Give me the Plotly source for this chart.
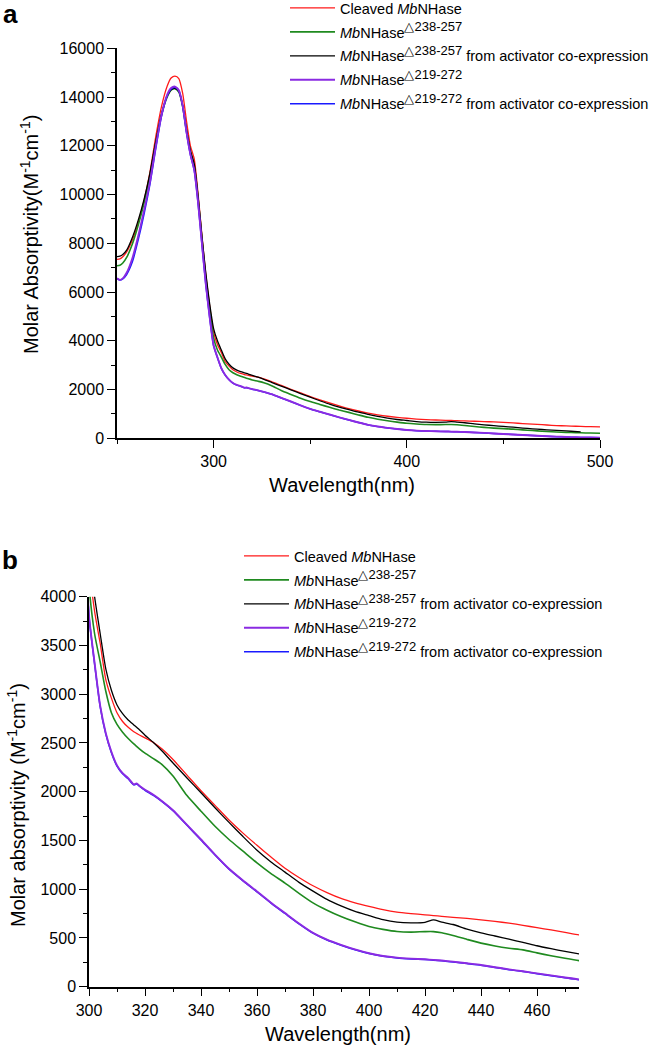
import plotly.graph_objects as go

# ---------------- data ----------------
wavelength = [250, 251.5, 253, 255, 258, 261, 264, 267, 270, 273,
              276, 278, 280, 282, 284, 286, 288, 290, 292, 294,
              296, 298, 300, 302, 304, 306, 308, 310, 312, 314,
              316, 317, 318, 320, 323, 326, 330, 335, 340, 345,
              350, 355, 360, 365, 370, 375, 380, 385, 390, 395,
              400, 405, 410, 415, 420, 423, 426, 430, 435, 440,
              445, 450, 455, 460, 465, 470, 475, 480, 485, 490,
              495, 500]

cleaved = [7344, 7360, 7450, 7650, 8150, 8850, 9750, 10900, 12350, 13600,
           14450, 14780, 14860, 14760, 14150, 13000, 12000, 11450, 10000, 8300,
           6700, 5400, 4350, 3850, 3520, 3150, 2960, 2810, 2720, 2660,
           2615, 2598, 2582, 2552, 2505, 2440, 2330, 2170, 2010, 1860,
           1710, 1575, 1450, 1330, 1215, 1120, 1035, 965, 905, 860,
           823, 790, 765, 750, 737, 730, 722, 712, 700, 686,
           670, 652, 630, 605, 583, 558, 532, 515, 500, 487,
           475, 465]

d238 = [7082, 7100, 7190, 7420, 7980, 8750, 9650, 10750, 12100, 13250,
        14000, 14280, 14340, 14200, 13600, 12600, 11750, 11150, 9800, 8150,
        6550, 5250, 4120, 3620, 3330, 3030, 2810, 2690, 2610, 2545,
        2490, 2465, 2440, 2395, 2340, 2280, 2160, 1960, 1800, 1645,
        1510, 1390, 1270, 1160, 1063, 958, 860, 785, 720, 665,
        617, 588, 566, 560, 565, 565, 553, 525, 485, 447,
        418, 395, 378, 347, 317, 291, 267, 250, 237, 225,
        215, 205]

d238_act = [7451, 7470, 7540, 7720, 8250, 8950, 9800, 10850, 12150, 13300,
            14050, 14300, 14360, 14230, 13650, 12650, 11800, 11250, 9900, 8250,
            6750, 5500, 4500, 4000, 3620, 3260, 3040, 2890, 2800, 2735,
            2685, 2660, 2635, 2580, 2505, 2420, 2295, 2140, 1990, 1835,
            1685, 1540, 1400, 1280, 1175, 1070, 980, 895, 828, 772,
            730, 688, 662, 655, 660, 685, 662, 638, 590, 552,
            520, 487, 455, 420, 390, 362, 336, 312, 290, 266,
            None, None]

d219 = [6565, 6500, 6560, 6790, 7400, 8300, 9350, 10500, 11950, 13250,
        14100, 14370, 14430, 14280, 13650, 12550, 11650, 11000, 9650, 7950,
        6300, 4950, 3810, 3320, 2880, 2600, 2410, 2270, 2190, 2140,
        2075, 2085, 2062, 2020, 1968, 1905, 1810, 1660, 1510, 1355,
        1210, 1090, 977, 862, 755, 648, 552, 482, 429, 382,
        343, 315, 298, 288, 281, 275, 268, 257, 240, 223,
        200, 178, 158, 137, 116, 95, 75, 62, 50, 40,
        32, 25]

d219_act = [6555, 6495, 6540, 6720, 7250, 8150, 9200, 10400, 11850, 13200,
            14050, 14330, 14400, 14260, 13630, 12530, 11630, 10980, 9620, 7920,
            6280, 4930, 3800, 3310, 2870, 2590, 2400, 2262, 2183, 2132,
            2070, 2078, 2056, 2014, 1962, 1900, 1804, 1655, 1505, 1350,
            1205, 1086, 972, 858, 751, 645, 549, 479, 426, 379,
            340, 312, 295, 285, 278, 272, 265, 254, 237, 220,
            197, 175, 155, 134, 113, 92, 72, 59, 47, 37,
            29, 22]

SUP_A = "<sup><span style=\"font-size:13px\">△238-257</span></sup>"
SUP_B = "<sup><span style=\"font-size:13px\">△219-272</span></sup>"
series_names = [
    "Cleaved <i>Mb</i>NHase",
    "<i>Mb</i>NHase" + SUP_A,
    "<i>Mb</i>NHase" + SUP_A + " from activator co-expression",
    "<i>Mb</i>NHase" + SUP_B,
    "<i>Mb</i>NHase" + SUP_B + " from activator co-expression",
]
series_values = [cleaved, d238, d238_act, d219, d219_act]
series_colors = ["#ff1a1a", "#1f8a1f", "#000000", "#8a2be2", "#1a1aff"]
series_widths = [1.3, 1.6, 1.3, 1.9, 1.5]
draw_order = [0, 1, 2, 4, 3]  # blue drawn beneath purple

FONT = "Arial, Liberation Sans, sans-serif"

fig = go.Figure()

for panel, (xa, ya, leg) in enumerate([("x", "y", "legend"), ("x2", "y2", "legend2")]):
    for i in draw_order:
        fig.add_trace(go.Scatter(
            x=wavelength, y=series_values[i], mode="lines",
            name=series_names[i],
            line=dict(color=series_colors[i], width=series_widths[i],
                      shape="spline", smoothing=0.6),
            xaxis=xa, yaxis=ya, legend=leg,
            legendgroup=f"g{panel}{i}", legendrank=i + 1,
            showlegend=True,
        ))

W, H = 660, 1050


def px_x(p):
    return p / W


def px_y(p):
    return 1 - p / H


axis_common = dict(
    showgrid=False, zeroline=False, showline=True, linecolor="black",
    linewidth=1.5, ticks="outside", ticklen=8, tickwidth=1.3,
    tickcolor="black", tickfont=dict(family=FONT, size=16, color="black"),
    automargin=False, tickformat="d",
)

legend_common = dict(
    xanchor="left", yanchor="top", bgcolor="rgba(0,0,0,0)",
    font=dict(family=FONT, size=14.5, color="black"),
    tracegroupgap=2.1, itemwidth=45, traceorder="grouped",
    itemclick=False, itemdoubleclick=False,
)

fig.update_layout(
    width=W, height=H, autosize=False,
    margin=dict(l=0, r=0, t=0, b=0, autoexpand=False),
    paper_bgcolor="white", plot_bgcolor="white",
    xaxis=dict(domain=[px_x(117), px_x(600)], range=[250, 500], dtick=100,
               anchor="y",
               minor=dict(dtick=50, ticks="outside", ticklen=4,
                          tickcolor="black", tickwidth=1.3),
               **axis_common),
    yaxis=dict(domain=[px_y(438.3), px_y(48.3)], range=[0, 16000], dtick=2000,
               anchor="x",
               minor=dict(dtick=1000, ticks="outside", ticklen=4,
                          tickcolor="black", tickwidth=1.3),
               **axis_common),
    xaxis2=dict(domain=[px_x(89), px_x(579)], range=[300, 475], dtick=20,
                anchor="y2",
                minor=dict(dtick=10, ticks="outside", ticklen=4,
                           tickcolor="black", tickwidth=1.3),
                **axis_common),
    yaxis2=dict(domain=[px_y(986.7), px_y(596.7)], range=[0, 4000], dtick=500,
                anchor="x2",
                minor=dict(dtick=250, ticks="outside", ticklen=4,
                           tickcolor="black", tickwidth=1.3),
                **axis_common),
    legend=dict(x=px_x(285), y=px_y(-8), **legend_common),
    legend2=dict(x=px_x(239), y=px_y(540), **legend_common),
    showlegend=True,
)

title_font = dict(family=FONT, size=20, color="black")
annotations = [
    dict(text="Wavelength(nm)", x=px_x(342), y=px_y(485), font=title_font),
    dict(text="Molar Absorptivity(M<sup>-1</sup>cm<sup>-1</sup>)",
         x=px_x(30), y=px_y(235), textangle=-90, font=title_font),
    dict(text="Wavelength(nm)", x=px_x(338), y=px_y(1034), font=title_font),
    dict(text="Molar absorptivity (M<sup>-1</sup>cm<sup>-1</sup>)",
         x=px_x(16), y=px_y(805), textangle=-90, font=title_font),
    dict(text="<b>a</b>", x=px_x(10), y=px_y(14),
         font=dict(family=FONT, size=26, color="black")),
    dict(text="<b>b</b>", x=px_x(10), y=px_y(560),
         font=dict(family=FONT, size=26, color="black")),
]
for a in annotations:
    a.update(xref="paper", yref="paper", showarrow=False,
             xanchor="center", yanchor="middle")
fig.update_layout(annotations=annotations)

fig.write_html("out.html",
               config={"displayModeBar": False},
               post_script="document.body.style.margin='0';"
                           "document.body.style.overflow='hidden';")
